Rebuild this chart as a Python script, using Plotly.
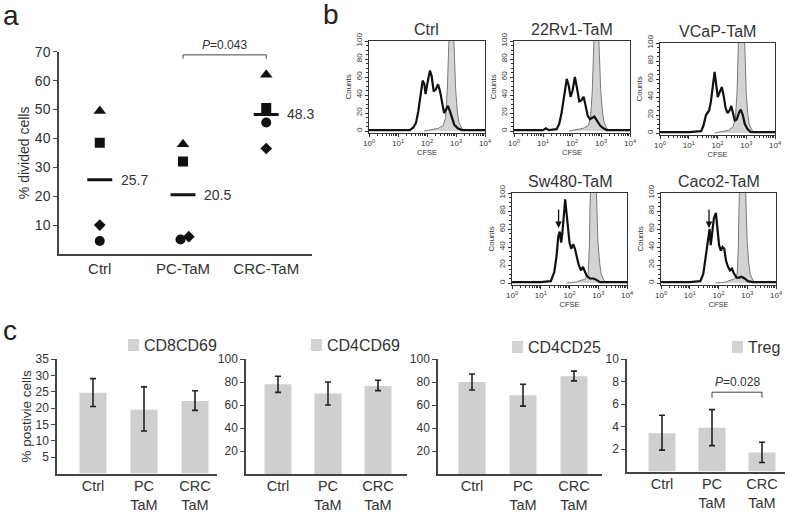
import plotly.graph_objects as go

W, H = 787, 514
FONT = "Liberation Sans, Arial, sans-serif"
TXT = "#333333"
AX = "#444444"

# ---------------- Panel a data ----------------
a_groups = ["Ctrl", "PC-TaM", "CRC-TaM"]
a_triangle = [49.5, 38.0, 62.0]
a_square = [38.5, 32.0, 50.5]
a_diamond = [10.0, 6.0, 36.5]
a_circle = [4.5, 5.0, 45.5]
a_mean = [25.7, 20.5, 48.3]
a_p_label = "<i>P</i>=0.043"

# ---------------- Panel b data (log10 CFSE, counts) ----------------
hist_titles = ["Ctrl", "22Rv1-TaM", "VCaP-TaM", "Sw480-TaM", "Caco2-TaM"]

ctrl_log = [0.0, 0.5, 1.0, 1.41, 1.53, 1.62, 1.70, 1.77, 1.85, 1.91, 1.95, 2.02, 2.10, 2.16, 2.23,
            2.30, 2.38, 2.45, 2.52, 2.59, 2.66, 2.72, 2.79, 2.85, 2.94, 3.06, 3.20, 3.6, 4.0]
ctrl_cnt = [1, 1, 1, 1, 4, 9, 22, 41, 56, 52, 41, 54, 67, 61, 44,
            46, 52, 44, 31, 20, 24, 28, 22, 15, 7, 3, 1, 1, 1]

rv1_log = [0.0, 0.5, 1.0, 1.1, 1.2, 1.47, 1.56, 1.64, 1.72, 1.82, 1.89, 1.95, 2.02, 2.10, 2.17,
           2.25, 2.32, 2.40, 2.47, 2.54, 2.62, 2.70, 2.77, 2.85, 2.97, 3.08, 3.20, 3.6, 4.0]
rv1_cnt = [1, 1, 1, 3, 1, 2, 8, 20, 38, 58, 50, 38, 45, 60, 48,
           33, 34, 38, 28, 17, 13, 15, 16, 12, 6, 3, 1, 1, 1]

vcap_log = [0.0, 0.5, 1.0, 1.43, 1.51, 1.60, 1.71, 1.77, 1.84, 1.90, 1.95, 2.01, 2.07, 2.15, 2.21,
            2.28, 2.35, 2.42, 2.48, 2.53, 2.60, 2.67, 2.74, 2.81, 2.88, 2.95, 3.05, 3.16, 3.6, 4.0]
vcap_cnt = [1, 1, 1, 2, 8, 20, 25, 35, 55, 68, 55, 40, 45, 51, 42,
            28, 22, 25, 30, 22, 14, 15, 22, 26, 20, 10, 4, 1, 1, 1]

sw_log = [0.0, 0.5, 1.0, 1.35, 1.47, 1.55, 1.61, 1.66, 1.71, 1.75, 1.80, 1.85, 1.89, 1.94, 2.00,
          2.06, 2.13, 2.19, 2.25, 2.32, 2.40, 2.47, 2.53, 2.60, 2.71, 2.82, 2.91, 3.06, 3.3, 3.6, 4.0]
sw_cnt = [1, 1, 1, 2, 12, 30, 52, 57, 45, 55, 80, 93, 80, 60, 45,
          38, 43, 38, 28, 20, 14, 18, 13, 8, 5, 5, 4, 1, 1, 1, 1]

caco_log = [0.0, 0.5, 1.0, 1.37, 1.47, 1.55, 1.63, 1.69, 1.73, 1.78, 1.84, 1.91, 1.97, 2.02, 2.08,
            2.14, 2.20, 2.26, 2.33, 2.40, 2.47, 2.53, 2.63, 2.72, 2.80, 2.91, 3.02, 3.2, 3.6, 4.0]
caco_cnt = [1, 1, 1, 2, 10, 28, 50, 60, 42, 55, 72, 78, 62, 42, 36,
            40, 38, 25, 18, 14, 16, 11, 6, 6, 7, 5, 2, 1, 1, 1]

# undivided (grey filled) reference peaks
g1_log = [1.9, 2.05, 2.39, 2.56, 2.64, 2.70, 2.73, 2.77, 2.91, 2.94, 2.99, 3.05, 3.10, 3.20, 3.30]
g1_cnt = [0, 1, 3, 6, 15, 45, 80, 115, 115, 80, 45, 20, 10, 3, 0]
g2_log = [1.9, 2.05, 2.39, 2.56, 2.64, 2.70, 2.73, 2.77, 2.91, 2.94, 2.99, 3.05, 3.10, 3.20, 3.30]
g2_cnt = [0, 1, 3, 6, 14, 45, 80, 115, 115, 80, 45, 22, 10, 3, 0]
g3_log = [1.9, 2.05, 2.39, 2.54, 2.62, 2.68, 2.71, 2.74, 2.93, 2.96, 3.00, 3.05, 3.10, 3.20, 3.30]
g3_cnt = [0, 1, 3, 7, 15, 45, 80, 115, 115, 80, 45, 22, 10, 3, 0]
g4_log = [1.9, 2.24, 2.40, 2.53, 2.65, 2.69, 2.71, 2.74, 2.92, 2.95, 2.99, 3.05, 3.10, 3.20, 3.30]
g4_cnt = [0, 1, 3, 4, 10, 40, 80, 115, 115, 80, 45, 22, 10, 3, 0]
g5_log = [1.9, 2.24, 2.40, 2.53, 2.65, 2.69, 2.71, 2.74, 2.93, 2.96, 3.00, 3.05, 3.10, 3.20, 3.30]
g5_cnt = [0, 1, 3, 4, 10, 40, 80, 115, 115, 80, 45, 22, 10, 3, 0]

arrow_log = [None, None, None, 1.62, 1.67]
arrow_tip = [None, None, None, 61, 61]

# ---------------- Panel c data ----------------
c_groups = ["Ctrl", "PC<br>TaM", "CRC<br>TaM"]
c_names = ["CD8CD69", "CD4CD69", "CD4CD25", "Treg"]
c_vals = [[24.7, 19.5, 22.2], [78.0, 70.0, 76.5], [80.0, 68.5, 85.0], [3.4, 3.9, 1.7]]
c_lo = [[20.5, 13.0, 19.3], [71.0, 60.0, 72.5], [73.0, 59.0, 81.0], [1.9, 2.3, 0.8]]
c_hi = [[29.0, 26.5, 25.3], [85.0, 80.0, 81.5], [87.0, 78.0, 89.5], [5.0, 5.5, 2.6]]
c_ymax = [35, 100, 100, 10]
c_dtick = [5, 20, 20, 2]
c_p_label = "<i>P</i>=0.028"
c_p_level = 7.05


def xdom(a, b):
    return [a / W, b / W]


def ydom(top, bottom):
    return [1 - bottom / H, 1 - top / H]


fig = go.Figure()
layout = dict(
    width=W, height=H, margin=dict(l=0, r=0, t=0, b=0, pad=0, autoexpand=False),
    paper_bgcolor="white", plot_bgcolor="white", showlegend=False,
    font=dict(family=FONT, color=TXT),
)
annotations = []
shapes = []

# ================= Panel a =================
pos = {g: i for i, g in enumerate(a_groups)}
nudge = {"circle": [0, -0.03, 0], "diamond": [0, 0.07, 0]}
for vals, sym, size, key in [(a_triangle, "triangle-up", 11, None), (a_square, "square", 10, None),
                             (a_diamond, "diamond", 9, "diamond"), (a_circle, "circle", 10, "circle")]:
    xs = [pos[g] + (nudge[key][i] if key else 0) for i, g in enumerate(a_groups)]
    fig.add_trace(go.Scatter(x=xs, y=vals, mode="markers", xaxis="x", yaxis="y",
                             marker=dict(symbol=sym, size=size, color="#111111", line=dict(width=0))))
for i, g in enumerate(a_groups):
    fig.add_trace(go.Scatter(x=[pos[g] - 0.15, pos[g] + 0.15], y=[a_mean[i], a_mean[i]], mode="lines",
                             xaxis="x", yaxis="y", line=dict(color="#111111", width=3)))
    annotations.append(dict(x=pos[g] + 0.23, y=a_mean[i], xref="x", yref="y", text=f"{a_mean[i]}",
                            showarrow=False, xanchor="left", yanchor="middle",
                            font=dict(size=14, color=TXT)))
fig.add_trace(go.Scatter(x=[1, 1, 2, 2], y=[67.6, 68.9, 68.9, 67.6], mode="lines", xaxis="x", yaxis="y",
                         line=dict(color="#444444", width=1), cliponaxis=False))
annotations.append(dict(x=1.5, y=69.3, xref="x", yref="y", text=a_p_label, showarrow=False,
                        yanchor="bottom", font=dict(size=12, color=TXT)))
layout["xaxis"] = dict(domain=xdom(59, 312), range=[-0.49, 2.55], tickvals=[0, 1, 2], ticktext=a_groups,
                       showline=True, linecolor=AX, linewidth=1.5, ticks="", showgrid=False, zeroline=False,
                       tickfont=dict(size=15, color=TXT), anchor="y", automargin=False)
layout["yaxis"] = dict(domain=ydom(51.7, 254), range=[0, 70], tickvals=[10, 20, 30, 40, 50, 60, 70],
                       showline=True, linecolor=AX, linewidth=1.5, ticks="outside", ticklen=4,
                       tickcolor=AX, showgrid=False, zeroline=False, tickfont=dict(size=14, color=TXT),
                       title=dict(text="% divided cells", font=dict(size=14, color=TXT), standoff=2),
                       anchor="x", automargin=False)

# ================= Panel b =================
hist_black = [(ctrl_log, ctrl_cnt), (rv1_log, rv1_cnt), (vcap_log, vcap_cnt), (sw_log, sw_cnt), (caco_log, caco_cnt)]
hist_grey = [(g1_log, g1_cnt), (g2_log, g2_cnt), (g3_log, g3_cnt), (g4_log, g4_cnt), (g5_log, g5_cnt)]
hist_boxes = [(369, 485, 41), (514, 630, 41), (660, 775, 43), (512, 627, 193), (661, 776, 193)]
for k in range(5):
    n = k + 2
    xa, ya = f"x{n}", f"y{n}"
    l, r, top = hist_boxes[k]
    gl, gc = hist_grey[k]
    bl, bc = hist_black[k]
    fig.add_trace(go.Scatter(x=[10 ** v for v in gl], y=gc, mode="lines", fill="tozeroy",
                             fillcolor="#d3d3d3", line=dict(color="#7a7a7a", width=1),
                             xaxis=xa, yaxis=ya))
    fig.add_trace(go.Scatter(x=[10 ** v for v in bl], y=bc, mode="lines",
                             line=dict(color="#111111", width=2.2), xaxis=xa, yaxis=ya))
    if arrow_log[k] is not None:
        annotations.append(dict(x=arrow_log[k], y=arrow_tip[k], xref=xa, yref=ya, ax=0, ay=-20,
                                showarrow=True, arrowhead=2, arrowsize=1, arrowwidth=1.3,
                                arrowcolor="#111111", text=""))
    bottom = top + 102 * 0.9
    layout[f"xaxis{n}"] = dict(domain=xdom(l, r), type="log", range=[0, 4],
                               tickvals=[1, 10, 100, 1000, 10000],
                               ticktext=[f"10<sup>{e}</sup>" for e in range(5)],
                               showline=True, mirror=True, linecolor="#333333", linewidth=1,
                               ticks="outside", ticklen=3, tickcolor="#333333",
                               minor=dict(ticks="outside", ticklen=2, tickcolor="#333333", dtick="D1"),
                               showgrid=False, zeroline=False, tickfont=dict(size=8, color=TXT),
                               title=dict(text="CFSE", font=dict(size=7.5, color=TXT), standoff=2),
                               anchor=ya, automargin=False)
    layout[f"yaxis{n}"] = dict(domain=ydom(top, bottom), range=[-2, 100], tickvals=[0, 20, 40, 60, 80, 100],
                               tickangle=-90, showline=True, mirror=True, linecolor="#333333", linewidth=1,
                               ticks="outside", ticklen=3, tickcolor="#333333",
                               minor=dict(ticks="outside", ticklen=2, tickcolor="#333333", dtick=5),
                               showgrid=False, zeroline=False, tickfont=dict(size=8, color=TXT),
                               title=dict(text="Counts", font=dict(size=8, color=TXT), standoff=1),
                               anchor=xa, automargin=False)
    annotations.append(dict(x=(l + r) / 2 / W, y=1 - (top - 12) / H, xref="paper", yref="paper",
                            text=hist_titles[k], showarrow=False, xanchor="center", yanchor="middle",
                            font=dict(size=16, color=TXT)))

# ================= Panel c =================
c_xdom = [(57, 217, 473.6), (246, 407, 474), (438, 602, 474), (627, 785, 471.5)]
c_pos = [(93, 144, 195), (278, 328, 378), (472, 522, 574), (662, 711, 762)]
c_leg = [(128, 345), (311, 345), (512, 347), (732, 347)]
for k in range(4):
    n = k + 7
    xa, ya = f"x{n}", f"y{n}"
    l, r, bot = c_xdom[k]
    p0, p1, p2 = c_pos[k]
    unit = (p2 - p0) / 2
    rng = [(l - p0) / unit, (r - p0) / unit]
    vals = c_vals[k]
    up = [h - v for h, v in zip(c_hi[k], vals)]
    dn = [v - lo for lo, v in zip(c_lo[k], vals)]
    fig.add_trace(go.Bar(x=[0, 1, 2], y=vals, width=27 / unit, marker=dict(color="#cfcfcf", line=dict(width=0)),
                         error_y=dict(type="data", symmetric=False, array=up, arrayminus=dn,
                                      color="#222222", thickness=1.6, width=3),
                         xaxis=xa, yaxis=ya))
    layout[f"xaxis{n}"] = dict(domain=xdom(l, r), range=rng, tickvals=[0, 1, 2], ticktext=c_groups,
                               showline=True, linecolor=AX, linewidth=1.5, ticks="", showgrid=False,
                               zeroline=False, tickfont=dict(size=14.5, color=TXT), anchor=ya,
                               automargin=False, ticklabelstandoff=-2)
    ytitle = dict(text="% postivie cells", font=dict(size=13.5, color=TXT), standoff=1) if k == 0 else None
    layout[f"yaxis{n}"] = dict(domain=ydom(359, bot), range=[0, c_ymax[k]],
                               tickvals=list(range(c_dtick[k], c_ymax[k] + 1, c_dtick[k])),
                               showline=True, linecolor=AX, linewidth=1.5, ticks="outside", ticklen=4,
                               tickcolor=AX, showgrid=False, zeroline=False, tickfont=dict(size=12, color=TXT),
                               title=ytitle, anchor=xa, automargin=False)
    lx, ly = c_leg[k]
    shapes.append(dict(type="rect", xref="paper", yref="paper", x0=lx / W, x1=(lx + 11) / W,
                       y0=1 - (ly + 6) / H, y1=1 - (ly - 6) / H, fillcolor="#d3d3d3", line=dict(width=0)))
    annotations.append(dict(x=(lx + 14) / W, y=1 - ly / H, xref="paper", yref="paper", text=c_names[k],
                            showarrow=False, xanchor="left", yanchor="middle", font=dict(size=16, color=TXT)))

# Treg P bracket
fig.add_trace(go.Scatter(x=[1, 1, 2, 2], y=[c_p_level - 0.5, c_p_level, c_p_level, c_p_level - 0.5],
                         mode="lines", xaxis="x10", yaxis="y10", line=dict(color="#444444", width=1)))
annotations.append(dict(x=1.5, y=c_p_level + 0.15, xref="x10", yref="y10", text=c_p_label, showarrow=False,
                        yanchor="bottom", font=dict(size=12, color=TXT)))

# panel letters
for letter, px, py in [("a", 1, 15), ("b", 321, 14), ("c", 1, 330)]:
    annotations.append(dict(x=px / W, y=1 - py / H, xref="paper", yref="paper", text=letter, showarrow=False,
                            xanchor="left", yanchor="middle", font=dict(size=28, color="#222222")))

layout["annotations"] = annotations
layout["shapes"] = shapes
fig.update_layout(**layout)
fig.write_html("out.html", config={"displayModeBar": False},
               post_script="document.body.style.margin='0';document.body.style.overflow='hidden';")
